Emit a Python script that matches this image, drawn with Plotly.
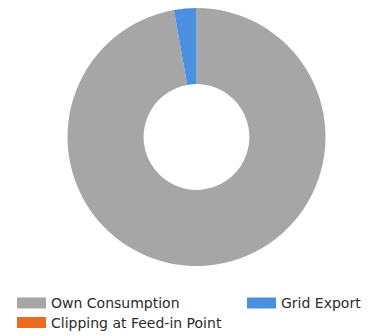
import plotly.graph_objects as go

# Energy split of the PV yield (percent)
labels = ["Own Consumption", "Grid Export", "Clipping at Feed-in Point"]
values = [97.2, 2.8, 0.0]
colors = ["#a6a6a6", "#4a8fe0", "#ee6a1c"]

W, H = 377, 336

def px(x):
    return x / W

def py(y):
    return 1 - y / H

fig = go.Figure(
    go.Pie(
        labels=labels,
        values=values,
        hole=0.41,
        sort=False,
        direction="clockwise",
        rotation=0,
        marker=dict(colors=colors, line=dict(width=0)),
        textinfo="none",
        hoverinfo="label+percent",
        showlegend=False,
        domain=dict(x=[px(67.5), px(325.5)], y=[py(266), py(8)]),
    )
)

# Legend: wide swatch + label, two columns
legend_pos = [(17, 303), (247, 303), (17, 322.5)]
shapes, annotations = [], []
for (lx, ly), lab, col in zip(legend_pos, labels, colors):
    shapes.append(dict(type="rect", xref="paper", yref="paper",
                       x0=px(lx), x1=px(lx + 29), y0=py(ly + 5.5), y1=py(ly - 5.5),
                       fillcolor=col, line=dict(width=0)))
    annotations.append(dict(text=lab, xref="paper", yref="paper",
                            x=px(lx + 32), y=py(ly), xanchor="left", yanchor="middle",
                            showarrow=False,
                            font=dict(family="DejaVu Sans", size=14, color="#2b2b2b")))

fig.update_layout(
    width=W, height=H,
    margin=dict(l=0, r=0, t=0, b=0),
    paper_bgcolor="white",
    plot_bgcolor="white",
    shapes=shapes,
    annotations=annotations,
)

fig.write_html("out.html")
